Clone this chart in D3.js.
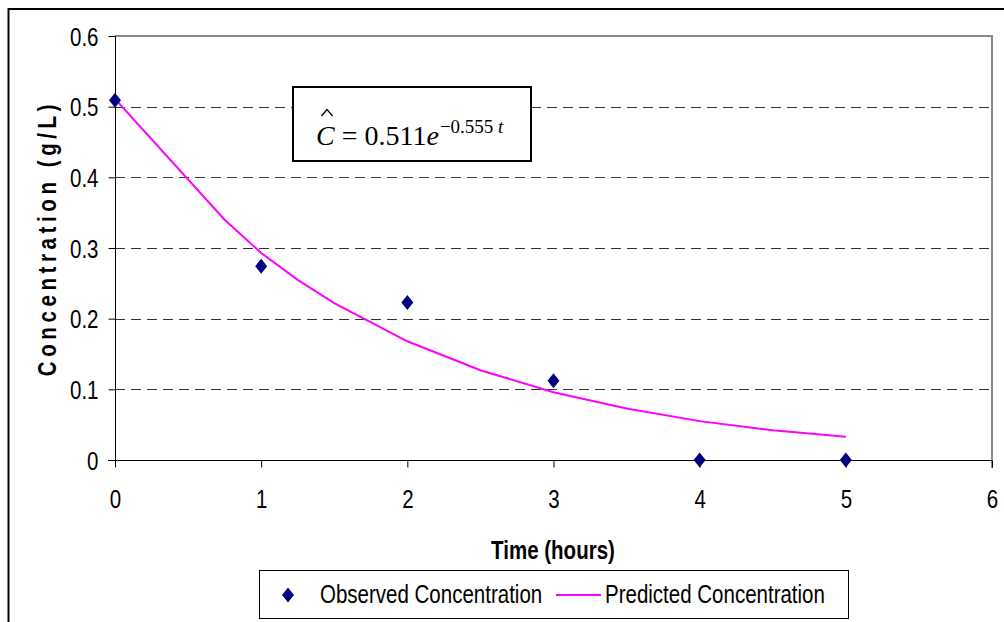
<!DOCTYPE html>
<html>
<head>
<meta charset="utf-8">
<script src="https://cdn.jsdelivr.net/npm/d3@7"></script>
<style>
  html, body { margin: 0; padding: 0; background: #fff; }
  svg { display: block; }
</style>
</head>
<body>
<script>
// ---- data ----
const obsTime = [0, 1, 2, 3, 4, 5];
const obsConc = [0.509, 0.274, 0.223, 0.112, 0.0, 0.0];

const predTime = [0, 0.75, 1, 1.25, 1.5, 2, 2.5, 3, 3.5, 4, 4.5, 5];
const predConc = [0.511, 0.340, 0.293, 0.255, 0.222, 0.168, 0.127, 0.096, 0.073, 0.055, 0.042, 0.033];

const xTicks = [0, 1, 2, 3, 4, 5, 6];
const yTicks = [0, 0.1, 0.2, 0.3, 0.4, 0.5, 0.6];
const yTickLabels = ["0", "0.1", "0.2", "0.3", "0.4", "0.5", "0.6"];

const xTitle = "Time (hours)";
const yTitle = "Concentration (g/L)";
const legendLabels = ["Observed Concentration", "Predicted Concentration"];

// ---- layout ----
const W = 1004, H = 622;
const plot = { left: 115, top: 36, right: 992, bottom: 460 };
const SANS = "Liberation Sans, Arial, sans-serif";
const SERIF = "Liberation Serif, Times New Roman, serif";
const NARROW = 0.82; // emulate Arial Narrow by horizontal compression

const svg = d3.select("body").append("svg").attr("width", W).attr("height", H);

// compress a text horizontally around its own x anchor
function condense(sel) {
  sel.each(function () {
    const t = d3.select(this);
    const x0 = +t.attr("x") || 0;
    t.attr("transform", `translate(${x0},0) scale(${NARROW},1) translate(${-x0},0)`);
  });
}

// outer chart border (extends past the right and bottom edges)
svg.append("rect").attr("x", 8.5).attr("y", 9).attr("width", 1200).attr("height", 800)
  .attr("fill", "none").attr("stroke", "#000").attr("stroke-width", 2);

const x = d3.scaleLinear().domain([0, 6]).range([plot.left, plot.right]);
const y = d3.scaleLinear().domain([0, 0.6]).range([plot.bottom, plot.top]);

// gridlines
svg.append("g").selectAll("line").data(yTicks.filter(v => v > 0 && v < 0.6)).join("line")
  .attr("x1", plot.left).attr("x2", plot.right)
  .attr("y1", d => Math.round(y(d)) + 0.5).attr("y2", d => Math.round(y(d)) + 0.5)
  .attr("stroke", "#333").attr("stroke-width", 1).attr("stroke-dasharray", "10,6");

// plot area top/right border (gray)
svg.append("path")
  .attr("d", `M${plot.left},${plot.top}H${plot.right}V${plot.bottom + 8}`)
  .attr("fill", "none").attr("stroke", "#888").attr("stroke-width", 2);

// y axis
const yAxis = d3.axisLeft(y).tickValues(yTicks).tickSize(7).tickPadding(10)
  .tickFormat((d, i) => yTickLabels[i]);
const gy = svg.append("g").attr("transform", `translate(${plot.left + 0.5},0)`).call(yAxis);
gy.select(".domain").attr("stroke", "#000").attr("d", `M0,${plot.top}V${plot.bottom + 6}`);
gy.selectAll(".tick line").attr("stroke", "#000");
gy.selectAll("text").attr("font-family", SANS).attr("font-size", 25).attr("fill", "#000")
  .attr("dy", "0.36em").call(condense);

// x axis
const xAxis = d3.axisBottom(x).tickValues(xTicks).tickSize(7).tickPadding(20).tickFormat(d3.format("d"));
const gx = svg.append("g").attr("transform", `translate(0,${plot.bottom + 0.5})`).call(xAxis);
gx.select(".domain").attr("stroke", "#000").attr("d", `M${plot.left - 7},0H${plot.right}`);
gx.selectAll(".tick line").attr("stroke", "#000");
gx.selectAll("text").attr("font-family", SANS).attr("font-size", 25).attr("fill", "#000")
  .attr("y", 48).attr("dy", null).call(condense);

// predicted line
const line = d3.line().x((d, i) => x(predTime[i])).y(d => y(d));
svg.append("path").datum(predConc).attr("d", line)
  .attr("fill", "none").attr("stroke", "#FF00FF").attr("stroke-width", 2);

// observed diamonds
const diamond = "M0,-7.5L6,0L0,7.5L-6,0Z";
svg.append("g").selectAll("path").data(obsConc).join("path")
  .attr("d", diamond)
  .attr("transform", (d, i) => `translate(${x(obsTime[i])},${y(d)})`)
  .attr("fill", "#000080");

// axis titles
svg.append("text").attr("x", 553).attr("y", 559).attr("text-anchor", "middle")
  .attr("font-family", SANS).attr("font-weight", "bold")
  .attr("font-size", 25).text(xTitle).call(condense);

svg.append("text")
  .attr("transform", `translate(56,238) rotate(-90) scale(${NARROW},1)`)
  .attr("text-anchor", "middle")
  .attr("font-family", SANS).attr("font-weight", "bold")
  .attr("font-size", 25).attr("letter-spacing", 5.6).text(yTitle);

// equation box
svg.append("rect").attr("x", 293).attr("y", 87).attr("width", 238).attr("height", 74)
  .attr("fill", "#fff").attr("stroke", "#000").attr("stroke-width", 2);
const eq = svg.append("text").attr("x", 316).attr("y", 145)
  .attr("font-family", SERIF).attr("font-size", 28);
eq.append("tspan").attr("font-style", "italic").text("C");
eq.append("tspan").text(" = 0.511");
eq.append("tspan").attr("font-style", "italic").text("e");
const sup = eq.append("tspan").attr("dx", 1).attr("dy", -12).attr("font-size", 19);
sup.append("tspan").text("\u22120.555");
sup.append("tspan").attr("font-style", "italic").text(" t");
// circumflex (hat) over C
svg.append("path").attr("d", "M321.5,116 L327,109.5 L332.5,116")
  .attr("fill", "none").attr("stroke", "#000").attr("stroke-width", 1.3);

// legend
svg.append("rect").attr("x", 259.5).attr("y", 570.5).attr("width", 589).attr("height", 48)
  .attr("fill", "#fff").attr("stroke", "#000").attr("stroke-width", 1);
svg.append("path").attr("d", diamond).attr("transform", "translate(288,595)").attr("fill", "#000080");
svg.append("text").attr("x", 320).attr("y", 603).attr("font-family", SANS).attr("font-size", 25)
  .text(legendLabels[0]).call(condense);
svg.append("line").attr("x1", 556).attr("x2", 601).attr("y1", 595).attr("y2", 595)
  .attr("stroke", "#FF00FF").attr("stroke-width", 2);
svg.append("text").attr("x", 605).attr("y", 603).attr("font-family", SANS).attr("font-size", 25)
  .text(legendLabels[1]).call(condense);
</script>
</body>
</html>
